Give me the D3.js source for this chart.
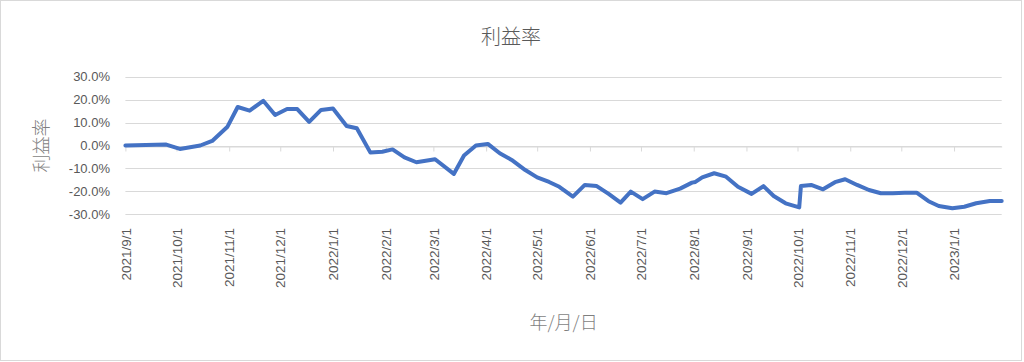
<!DOCTYPE html>
<html>
<head>
<meta charset="utf-8">
<script src="https://cdn.jsdelivr.net/npm/d3@7"></script>
<style>
  body { margin: 0; background: #fff; }
  svg { display: block; }
</style>
</head>
<body>
<svg id="chart" width="1024" height="362"></svg>
<script>
// weekly-ish profit rate readings (percent)
const dates = [
  "2021-09-01", "2021-09-25", "2021-10-03", "2021-10-15", "2021-10-22", "2021-10-31",
  "2021-11-06", "2021-11-13", "2021-11-21", "2021-11-28", "2021-12-05", "2021-12-11",
  "2021-12-18", "2021-12-25", "2022-01-01", "2022-01-09", "2022-01-15", "2022-01-23",
  "2022-01-30", "2022-02-05", "2022-02-12", "2022-02-19", "2022-03-02", "2022-03-13",
  "2022-03-19", "2022-03-26", "2022-04-02", "2022-04-09", "2022-04-16", "2022-04-24",
  "2022-05-01", "2022-05-08", "2022-05-14", "2022-05-22", "2022-05-29", "2022-06-05",
  "2022-06-12", "2022-06-19", "2022-06-25", "2022-07-02", "2022-07-09", "2022-07-16",
  "2022-07-24", "2022-07-31", "2022-08-02", "2022-08-06", "2022-08-13", "2022-08-20",
  "2022-08-27", "2022-09-04", "2022-09-11", "2022-09-17", "2022-09-24", "2022-10-02",
  "2022-10-03", "2022-10-09", "2022-10-16", "2022-10-23", "2022-10-29", "2022-11-05",
  "2022-11-12", "2022-11-19", "2022-11-26", "2022-12-03", "2022-12-10", "2022-12-17",
  "2022-12-23", "2022-12-31", "2023-01-07", "2023-01-14", "2023-01-22", "2023-01-29"
];
const rates = [
  0.0, 0.4, -1.5, 0.0, 2.0, 8.2,
  16.8, 15.2, 19.5, 13.3, 15.9, 15.9,
  10.3, 15.5, 16.1, 8.5, 7.5, -3.1,
  -2.7, -1.7, -5.2, -7.3, -6.0, -12.4,
  -4.4, 0.0, 0.7, -3.4, -6.3, -10.7,
  -13.9, -15.9, -18.0, -22.3, -17.2, -17.7,
  -21.1, -24.9, -20.1, -23.4, -20.1, -20.8,
  -18.8, -16.2, -15.9, -13.9, -12.1, -13.6,
  -18.0, -21.1, -17.7, -22.0, -25.2, -27.0,
  -17.7, -17.2, -19.1, -16.0, -14.7, -17.2,
  -19.4, -20.8, -20.8, -20.6, -20.6, -24.3,
  -26.4, -27.4, -26.7, -25.2, -24.2, -24.2
];
const yTicks = [-0.3, -0.2, -0.1, 0, 0.1, 0.2, 0.3];
const xStart = "2021-09-01";
const xEnd = "2023-01-29";

const titleText = "利益率";
const yTitle = "利益率";
const xTitle = "年/月/日";

const parse = d3.utcParse("%Y-%m-%d");
const data = dates.map((d, i) => ({ date: parse(d), value: rates[i] / 100 }));

const margin = { top: 76.7, right: 1001.7, bottom: 214.3, left: 125.4 };
const svg = d3.select("#chart");

const x = d3.scaleUtc()
  .domain([parse(xStart), parse(xEnd)])
  .range([margin.left, margin.right]);

const y = d3.scaleLinear()
  .domain([-0.3, 0.3])
  .range([margin.bottom, margin.top]);

const locale = d3.formatLocale({ decimal: ".", thousands: ",", grouping: [3], currency: ["", ""], minus: "-" });
const pct = locale.format(".1%");

// chart border
svg.append("rect")
  .attr("x", 0.5).attr("y", 0.5)
  .attr("width", 1021).attr("height", 360)
  .attr("fill", "#fff")
  .attr("stroke", "#d9d9d9");

// gridlines
svg.append("g")
  .selectAll("line")
  .data(yTicks)
  .enter()
  .append("line")
  .attr("x1", margin.left)
  .attr("x2", margin.right)
  .attr("y1", d => Math.round(y(d)) + 0.5)
  .attr("y2", d => Math.round(y(d)) + 0.5)
  .attr("stroke", "#d9d9d9")
  .attr("stroke-width", 1);

// y tick labels
svg.append("g")
  .selectAll("text")
  .data(yTicks)
  .enter()
  .append("text")
  .attr("x", 110)
  .attr("y", d => y(d))
  .attr("dy", "0.35em")
  .attr("text-anchor", "end")
  .style("font-family", "'Liberation Sans', Arial, sans-serif")
  .style("font-size", "13px")
  .style("fill", "#595959")
  .text(d => pct(d));

// x axis at zero
const y0 = Math.round(y(0)) + 0.5;
const xAxis = d3.axisBottom(x)
  .ticks(d3.utcMonth.every(1))
  .tickFormat(d3.utcFormat("%Y/%-m/%-d"))
  .tickSize(5)
  .tickSizeOuter(0);

const gx = svg.append("g")
  .attr("transform", `translate(0, ${y0})`)
  .call(xAxis);

gx.select(".domain").attr("stroke", "#d9d9d9");
gx.selectAll(".tick line").attr("stroke", "#d9d9d9");
gx.selectAll(".tick text")
  .attr("y", 0)
  .attr("dy", "0.35em")
  .attr("transform", `translate(0, ${228 - y0}) rotate(-90)`)
  .style("text-anchor", "end")
  .style("font-family", "'Liberation Sans', Arial, sans-serif")
  .style("font-size", "13.5px")
  .style("fill", "#595959");

// line
const line = d3.line()
  .x(d => x(d.date))
  .y(d => y(d.value));

svg.append("path")
  .datum(data)
  .attr("d", line)
  .attr("fill", "none")
  .attr("stroke", "#4472c4")
  .attr("stroke-width", 4)
  .attr("stroke-linejoin", "round")
  .attr("stroke-linecap", "round");

// titles
svg.append("text")
  .attr("x", 511)
  .attr("y", 37)
  .attr("dy", "0.35em")
  .attr("text-anchor", "middle")
  .style("font-family", "'Noto Sans CJK JP', sans-serif")
  .style("font-weight", 300)
  .style("font-size", "20px")
  .style("fill", "#595959")
  .text(titleText);

svg.append("text")
  .attr("transform", `translate(42, ${(margin.top + margin.bottom) / 2}) rotate(-90)`)
  .attr("dy", "0.35em")
  .attr("text-anchor", "middle")
  .style("font-family", "'Noto Sans CJK JP', sans-serif")
  .style("font-weight", 300)
  .style("font-size", "18px")
  .style("fill", "#7f7f7f")
  .text(yTitle);

svg.append("text")
  .attr("x", (margin.left + margin.right) / 2)
  .attr("y", 323)
  .attr("dy", "0.35em")
  .attr("text-anchor", "middle")
  .style("font-family", "'Noto Sans CJK JP', sans-serif")
  .style("font-weight", 300)
  .style("font-size", "18px")
  .style("fill", "#7f7f7f")
  .text(xTitle);
</script>
</body>
</html>
